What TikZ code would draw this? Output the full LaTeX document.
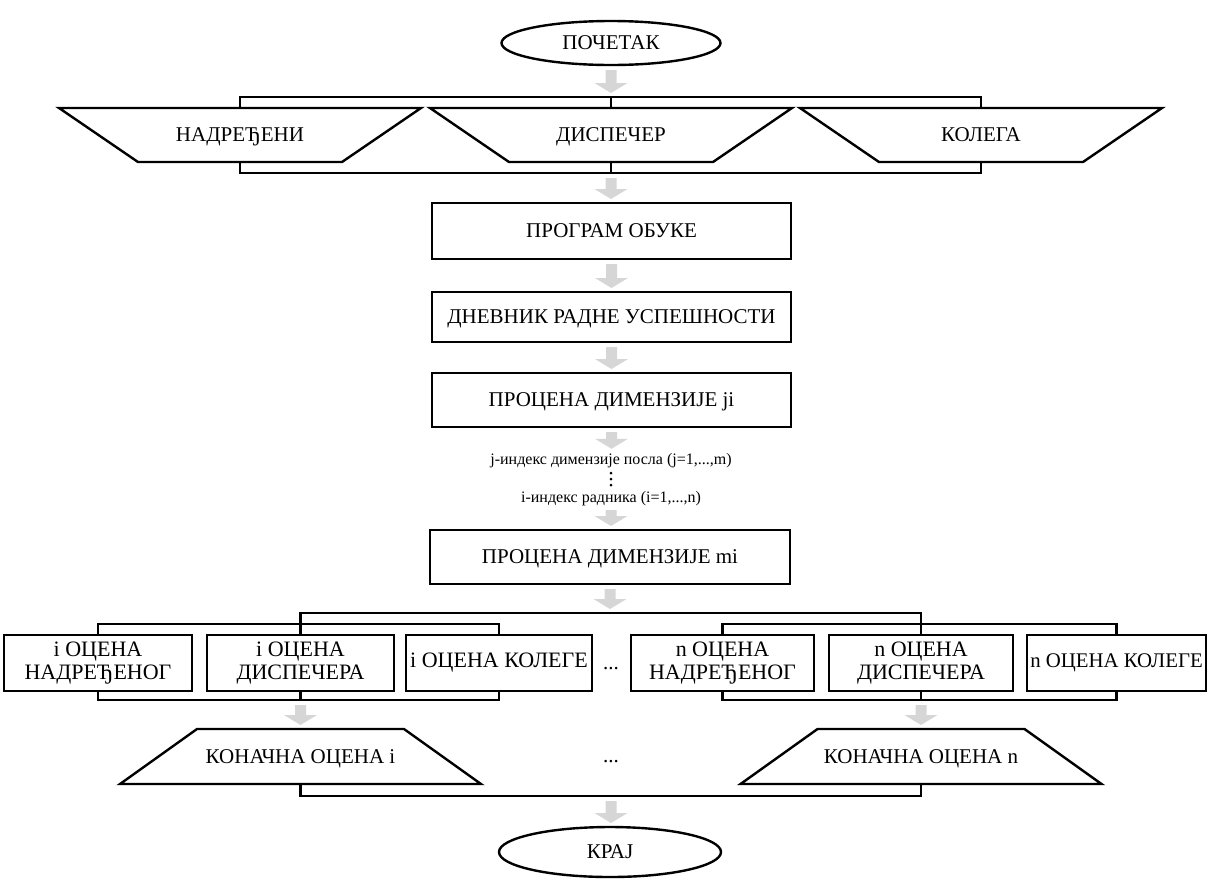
\documentclass[tikz,border=0pt]{standalone}
\usepackage{fontspec}
\setmainfont{Liberation Serif}
\usetikzlibrary{shapes.geometric,calc}
\definecolor{arrowgray}{RGB}{214,214,214}
\begin{document}
\begin{tikzpicture}[x=0.5pt,y=-0.5pt,
  every node/.style={inner sep=0pt,outer sep=0pt},
  lbl/.style={align=center,font=\fontsize{10.5}{12}\selectfont,text height=7.2pt,text depth=0.4pt},
  frame/.style={lbl,draw,line width=1.2pt},
  term/.style={frame,ellipse},
  tz/.style={lbl},
  cell/.style={draw,line width=1.2pt,align=center,font=\fontsize{11}{11.5}\selectfont},
  note/.style={font=\fontsize{8}{9}\selectfont,text height=5.6pt,text depth=1.6pt},
  wire/.style={line width=1.2pt},
  % light grey block arrow between two points (vertical)
  flow/.style={fill=arrowgray,to path={
    let \p1=(\tikztostart),\p2=(\tikztotarget) in
    (\x1-2.75pt,\y1-2.5pt) -- (\x1+2.75pt,\y1-2.5pt) -- (\x1+2.75pt,\y2+7pt)
    -- (\x1+8.25pt,\y2+7pt) -- (\x1,\y2+2pt) -- (\x1-8.25pt,\y2+7pt)
    -- (\x1-2.75pt,\y2+7pt) -- cycle}}
]
\useasboundingbox (0,0) rectangle (1208,879);

% start
\node[term,minimum width=109.5pt,minimum height=22pt] (start) at (611,43) {ПОЧЕТАК};

% three sources (inverted trapezoids)
\foreach \n/\cx/\t in {t1/240/НАДРЕЂЕНИ,t2/611/ДИСПЕЧЕР,t3/981/КОЛЕГА}{
  \node[tz,minimum width=181pt,minimum height=27pt] (\n) at (\cx,135) {\t};
  \draw[wire,line join=miter] (\n.north west) -- (\n.north east)
    -- ($(\n.south east)+(-79,0)$) -- ($(\n.south west)+(79,0)$) -- cycle;
}
\coordinate (topbar) at (611,97);
\coordinate (botbar) at (611,173);
\draw[wire] (t1.north) |- (topbar) -| (t3.north);
\draw[wire] (t2.north) -- (topbar);
\draw[wire] (t1.south) |- (botbar) -| (t3.south);
\draw[wire] (t2.south) -- (botbar);

% main column
\node[frame,minimum width=179.5pt,minimum height=28pt] (prog) at (611.5,231) {ПРОГРАМ ОБУКЕ};
\node[frame,minimum width=179.5pt,minimum height=25pt] (diary) at (611.5,317) {ДНЕВНИК РАДНЕ УСПЕШНОСТИ};
\node[frame,minimum width=179.5pt,minimum height=27pt] (dimj) at (611.5,400) {ПРОЦЕНА ДИМЕНЗИЈЕ ji};
\node[note] (idxj) at (611,460) {j-индекс димензије посла (j=1,...,m)};
\coordinate (vdots) at (611,479);
\foreach \dy in {-6,0,6}{\fill ($(vdots)+(0,\dy)$) circle (0.75pt);}
\node[note] (idxi) at (611,498) {i-индекс радника (i=1,...,n)};
\node[frame,minimum width=180pt,minimum height=27pt] (dimm) at (610,557) {ПРОЦЕНА ДИМЕНЗИЈЕ mi};

% ratings
\foreach \n/\cx/\w/\t in {
  ia/98/94/{i ОЦЕНА\\НАДРЕЂЕНОГ},
  ib/300.5/93.5/{i ОЦЕНА\\ДИСПЕЧЕРА},
  ic/499/93/{i ОЦЕНА КОЛЕГЕ},
  na/722.5/91.5/{n ОЦЕНА\\НАДРЕЂЕНОГ},
  nb/921/92/{n ОЦЕНА\\ДИСПЕЧЕРА}}{
  \node[cell,minimum width=\w pt,minimum height=28pt] (\n) at (\cx,663) {\t};
}
\node[cell,minimum width=89.5pt,minimum height=28pt,font=\fontsize{10.4}{11.5}\selectfont] (nc) at (1116.5,663) {n ОЦЕНА КОЛЕГЕ};
\node[lbl] (gapa) at (611,663) {...};

\coordinate (obar) at (611,613);
\coordinate (iup) at (300.5,624);
\coordinate (nup) at (921,624);
\coordinate (ilow) at (300.5,700);
\coordinate (nlow) at (921,700);
\draw[wire] (ib.north) |- (obar) -| (nb.north);
\draw[wire] (ia.north) |- (iup) -| (ic.north);
\draw[wire] (na.north) |- (nup) -| (nc.north);
\draw[wire] (ia.south) |- (ilow) -| (ic.south);
\draw[wire] (ib.south) -- (ilow);
\draw[wire] (na.south) |- (nlow) -| (nc.south);
\draw[wire] (nb.south) -- (nlow);

% final marks (trapezoids)
\foreach \n/\cx/\t in {fi/300.5/КОНАЧНА ОЦЕНА i,fn/921/КОНАЧНА ОЦЕНА n}{
  \node[tz,minimum width=180.5pt,minimum height=27.5pt] (\n) at (\cx,756.5) {\t};
  \draw[wire,line join=miter] (\n.south west) -- (\n.south east)
    -- ($(\n.north east)+(-77,0)$) -- ($(\n.north west)+(77,0)$) -- cycle;
}
\node[lbl] (gapb) at (611,756) {...};
\coordinate (endbar) at (611,796);
\draw[wire] (fi.south) |- (endbar) -| (fn.south);

\node[term,minimum width=111pt,minimum height=25pt] (stop) at (610,852) {КРАЈ};

% grey flow arrows
\path[flow] (start.south) to (topbar);
\path[flow] (botbar) to (prog.north);
\path[flow] (prog.south) to (diary.north);
\path[flow] (diary.south) to (dimj.north);
\path[flow] (dimj.south) to (idxj.north);
\path[flow] (idxi.south) to (dimm.north);
\path[flow] (dimm.south) to (obar);
\path[flow] (ilow) to (fi.north);
\path[flow] (nlow) to (fn.north);
\path[flow] (endbar) to (stop.north);
\end{tikzpicture}
\end{document}
